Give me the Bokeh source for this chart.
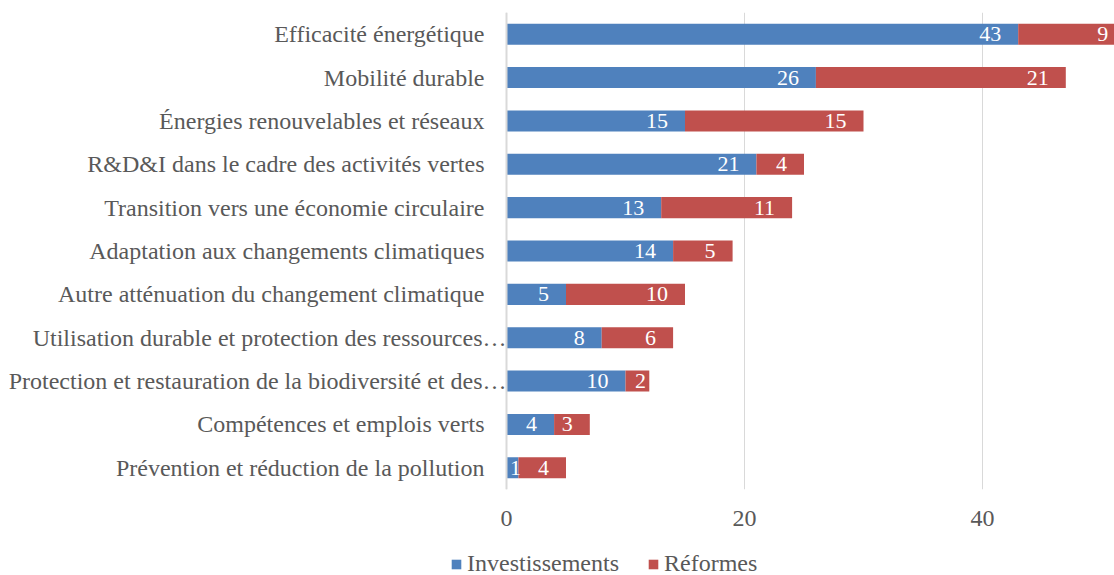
from bokeh.plotting import figure
from bokeh.models import (ColumnDataSource, Range1d, FixedTicker, Legend, LegendItem,
                          Span, FactorRange)
from bokeh.layouts import column
from bokeh.core.properties import value
from bokeh.embed import file_html
from bokeh.resources import INLINE

categories = [
    "Efficacité énergétique",
    "Mobilité durable",
    "Énergies renouvelables et réseaux",
    "R&D&I dans le cadre des activités vertes",
    "Transition vers une économie circulaire",
    "Adaptation aux changements climatiques",
    "Autre atténuation du changement climatique",
    "Utilisation durable et protection des ressources…",
    "Protection et restauration de la biodiversité et des…",
    "Compétences et emplois verts",
    "Prévention et réduction de la pollution",
]
investissements = [43, 26, 15, 21, 13, 14, 5, 8, 10, 4, 1]
reformes = [9, 21, 15, 4, 11, 5, 10, 6, 2, 3, 4]
series_names = ["Investissements", "Réformes"]
x_ticks = [0, 20, 40]

BLUE = "#4F81BD"
RED = "#C0504D"
FONT = "Liberation Serif"
GREY = "#595959"
GRID = "#D9D9D9"

W = 1114
ZERO_PX = 506          # pixel position of value 0
PX_PER_UNIT = 11.9
XMIN = -ZERO_PX / PX_PER_UNIT
XMAX = (W - ZERO_PX) / PX_PER_UNIT
FRAME_H = 477

src = ColumnDataSource(dict(
    cat=categories, inv=investissements, ref=reformes,
    lab_off=[0 if c.endswith("…") else -22 for c in categories],
    zero=[0] * len(categories),
))

p = figure(
    y_range=FactorRange(factors=list(reversed(categories))),
    x_range=Range1d(XMIN, XMAX),
    width=W, frame_height=FRAME_H,
    min_border_left=0, min_border_right=0, min_border_top=12, min_border_bottom=48,
    output_backend="svg", toolbar_location=None,
)
p.yaxis.visible = False

rs = p.hbar_stack(["inv", "ref"], y="cat", height=0.485, color=[BLUE, RED],
                  line_color=None, source=src)

# category labels (left of the value axis)
p.text(x="zero", y="cat", text="cat", source=src, x_offset="lab_off",
       text_align="right", text_baseline="middle", text_color=GREY,
       text_font=value(FONT), text_font_size="24px")

# vertical value axis line at 0
p.add_layout(Span(location=0, dimension="height", line_color=GRID, line_width=2))

# value labels
lx, ly, lt, la, lo = [], [], [], [], []
for c, a, b in zip(categories, investissements, reformes):
    for start, v in ((0, a), (a, b)):
        if v * PX_PER_UNIT < 25:
            lx.append(start + v / 2); la.append("center"); lo.append(3)
        else:
            lx.append(start + v); la.append("right"); lo.append(-17)
        ly.append(c); lt.append(str(v))
lsrc = ColumnDataSource(dict(x=lx, y=ly, t=lt, a=la, o=lo))
p.text(x="x", y="y", text="t", source=lsrc, text_align="a", x_offset="o",
       text_baseline="middle", text_color="white",
       text_font=value(FONT), text_font_size="22px")

# x axis
p.xaxis.ticker = FixedTicker(ticks=x_ticks)
p.xaxis.axis_line_color = None
p.xaxis.major_tick_line_color = None
p.xaxis.minor_tick_line_color = None
p.xaxis.major_label_standoff = 15
p.xaxis.major_label_text_font = FONT
p.xaxis.major_label_text_font_size = "24px"
p.xaxis.major_label_text_color = GREY

p.ygrid.grid_line_color = None
p.xgrid.grid_line_color = GRID
p.xgrid.grid_line_width = 1
p.outline_line_color = None

# legend strip below the chart (bars drawn off-range so only the legend shows)
lg = figure(width=W, height=38, x_range=Range1d(-1000, -999),
            y_range=FactorRange(factors=list(reversed(categories))),
            min_border=0, output_backend="svg", toolbar_location=None,
            x_axis_type=None, y_axis_type=None)
lg.outline_line_color = None
lg.grid.visible = False
lrs = lg.hbar_stack(["inv", "ref"], y="cat", height=0.485, color=[BLUE, RED],
                    line_color=None, source=src)
legend = Legend(
    items=[LegendItem(label=series_names[0], renderers=[lrs[0]]),
           LegendItem(label=series_names[1], renderers=[lrs[1]])],
    orientation="horizontal", location=(450, -2),
    border_line_color=None, background_fill_alpha=0,
    padding=0, margin=0, spacing=28,
    glyph_width=12, glyph_height=12, label_standoff=5,
    label_text_font=FONT, label_text_font_size="24px", label_text_color=GREY,
)
lg.add_layout(legend, "center")

layout = column(p, lg, spacing=0)
open("out.html", "w").write(file_html(layout, INLINE))
